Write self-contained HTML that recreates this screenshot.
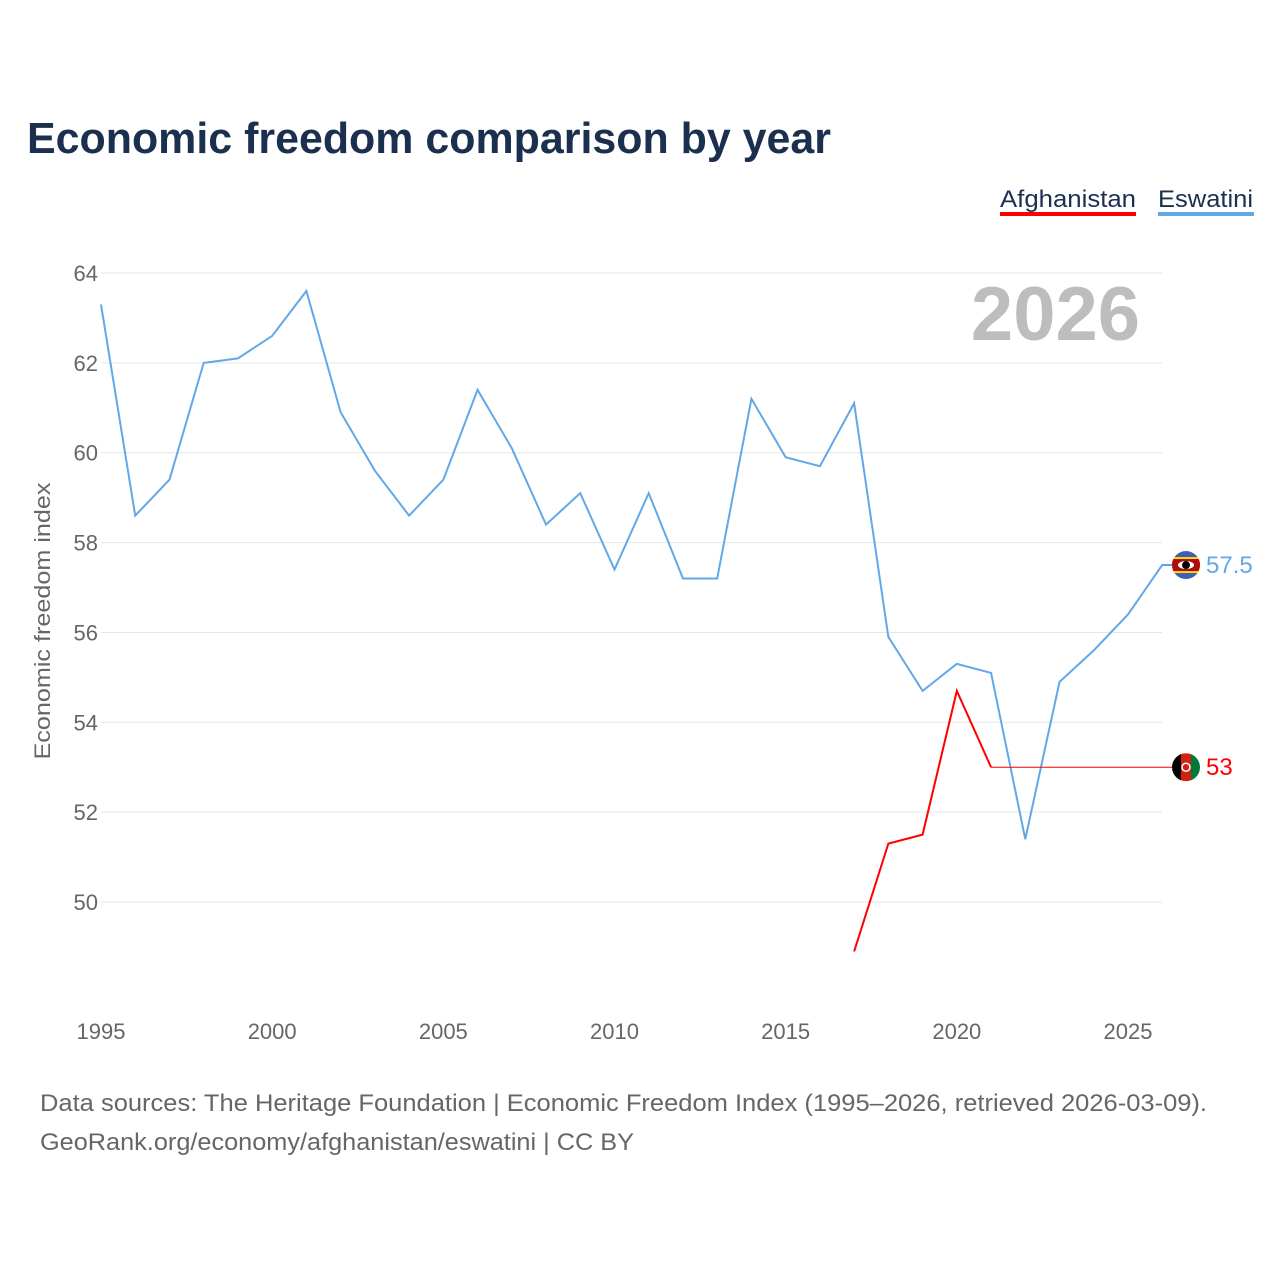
<!DOCTYPE html>
<html><head><meta charset="utf-8"><style>
body{margin:0;background:#fff;font-family:"Liberation Sans",sans-serif;}
svg text{font-family:"Liberation Sans",sans-serif;}
</style></head><body>
<svg id="c" width="1280" height="1280" xmlns="http://www.w3.org/2000/svg">
<text x="27" y="153" font-size="44" font-weight="bold" fill="#1b2f4e" textLength="804" lengthAdjust="spacingAndGlyphs">Economic freedom comparison by year</text>
<g>
<text x="1000" y="207" font-size="24" fill="#1b2f4e" textLength="136" lengthAdjust="spacingAndGlyphs">Afghanistan</text>
<rect x="1000" y="212" width="136" height="4" fill="#ff0000"/>
<text x="1158" y="207" font-size="24" fill="#1b2f4e" textLength="95" lengthAdjust="spacingAndGlyphs">Eswatini</text>
<rect x="1158" y="212" width="96" height="4" fill="#62a8e8"/>
</g>
<text x="1140" y="340" font-size="76" font-weight="bold" fill="#bdbdbd" text-anchor="end">2026</text>
<text transform="translate(50,621) rotate(-90)" font-size="22" fill="#666" text-anchor="middle" textLength="277" lengthAdjust="spacingAndGlyphs">Economic freedom index</text>
<g id="grid"></g><g id="xt"></g><g id="lines"></g>
<text x="40" y="1111" font-size="24" fill="#666" textLength="1167" lengthAdjust="spacingAndGlyphs">Data sources: The Heritage Foundation | Economic Freedom Index (1995–2026, retrieved 2026-03-09).</text>
<text x="40" y="1150" font-size="24" fill="#666" textLength="594" lengthAdjust="spacingAndGlyphs">GeoRank.org/economy/afghanistan/eswatini | CC BY</text>
</svg>
<script>
const years=[1995,1996,1997,1998,1999,2000,2001,2002,2003,2004,2005,2006,2007,2008,2009,2010,2011,2012,2013,2014,2015,2016,2017,2018,2019,2020,2021,2022,2023,2024,2025,2026];
const eswatini=[63.3,58.6,59.4,62.0,62.1,62.6,63.6,60.9,59.6,58.6,59.4,61.4,60.1,58.4,59.1,57.4,59.1,57.2,57.2,61.2,59.9,59.7,61.1,55.9,54.7,55.3,55.1,51.4,54.9,55.6,56.4,57.5];
const afgYears=[2017,2018,2019,2020,2021];
const afghanistan=[48.9,51.3,51.5,54.7,53.0];
const afgLatest=53;
const yTicks=[50,52,54,56,58,60,62,64];
const xTicks=[1995,2000,2005,2010,2015,2020,2025];
const NS='http://www.w3.org/2000/svg';
const X=y=>101+(y-1995)*34.233;
const Y=v=>273+(64-v)*44.93;
function mk(t,a,p){const e=document.createElementNS(NS,t);for(const k in a)e.setAttribute(k,a[k]);document.getElementById(p).appendChild(e);return e;}
yTicks.forEach(v=>{
 const l=mk('line',{x1:101,x2:1162,y1:Y(v),y2:Y(v),stroke:'#e6e6e6','stroke-width':1},'grid');
 
 
 const t=mk('text',{x:98,y:Y(v)+8,'font-size':22,fill:'#666','text-anchor':'end'},'grid');t.textContent=v;
 
 
});
xTicks.forEach(v=>{
 const t=mk('text',{x:X(v),y:1039,'font-size':22,fill:'#666','text-anchor':'middle'},'xt');t.textContent=v;
 
 
});
const fx=1186;
let e=mk('polyline',{points:years.map((y,i)=>X(y)+','+Y(eswatini[i])).join(' ')+' '+(fx-14)+','+Y(eswatini[eswatini.length-1]),fill:'none',stroke:'#62a8e8','stroke-width':2},'lines');


let h=mk('line',{x1:X(afgYears[afgYears.length-1]),x2:fx-14,y1:Y(afgLatest),y2:Y(afgLatest),stroke:'#ff0000','stroke-width':1},'lines');


let a=mk('polyline',{points:afgYears.map((y,i)=>X(y)+','+Y(afghanistan[i])).join(' '),fill:'none',stroke:'#ff0000','stroke-width':2},'lines');


const ey=Y(eswatini[eswatini.length-1]), ay=Y(afgLatest);
let g=mk('g',{},'lines');
g.innerHTML=`<clipPath id="ce"><circle cx="${fx}" cy="${ey}" r="14"/></clipPath><g clip-path="url(#ce)"><rect x="${fx-14}" y="${ey-14}" width="28" height="28" fill="#3e5eb9"/><rect x="${fx-14}" y="${ey-8}" width="28" height="16" fill="#ffd900"/><rect x="${fx-14}" y="${ey-6}" width="28" height="12" fill="#b10c0c"/><ellipse cx="${fx}" cy="${ey}" rx="8" ry="4" fill="#fff"/><ellipse cx="${fx}" cy="${ey}" rx="4" ry="4" fill="#000"/></g>`;
let g2=mk('g',{},'lines');
g2.innerHTML=`<clipPath id="ca"><circle cx="${fx}" cy="${ay}" r="14"/></clipPath><g clip-path="url(#ca)"><rect x="${fx-14}" y="${ay-14}" width="10" height="28" fill="#000"/><rect x="${fx-5}" y="${ay-14}" width="10" height="28" fill="#d32011"/><rect x="${fx+5}" y="${ay-14}" width="10" height="28" fill="#007a36"/><circle cx="${fx}" cy="${ay}" r="4" fill="none" stroke="#fff" stroke-width="1.5"/></g>`;
let t1=mk('text',{x:1206,y:ey+8,'font-size':24,fill:'#62a8e8'},'lines');t1.textContent=eswatini[eswatini.length-1];


let t2=mk('text',{x:1206,y:ay+8,'font-size':24,fill:'#ff0000'},'lines');t2.textContent=afgLatest;


</script>
</body></html>
